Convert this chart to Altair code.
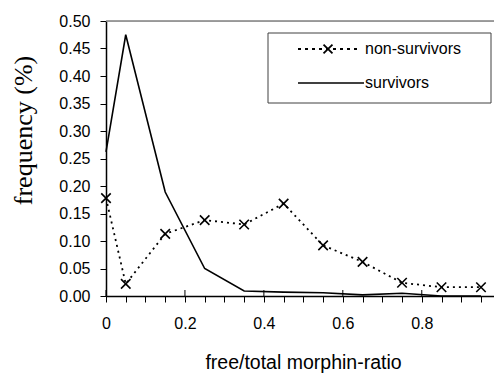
import altair as alt
import pandas as pd

# data
ratio = [0.0, 0.05, 0.15, 0.25, 0.35, 0.45, 0.55, 0.65, 0.75, 0.85, 0.95]
non_survivors = [0.178, 0.022, 0.113, 0.138, 0.130, 0.168, 0.092, 0.062, 0.024, 0.016, 0.016]
survivors = [0.262, 0.475, 0.189, 0.050, 0.009, 0.007, 0.006, 0.002, 0.005, 0.0, 0.0]
series_names = ["non-survivors", "survivors"]
x_tick_values = [round(i * 0.05, 2) for i in range(20)]
x_major_ticks = [0.0, 0.2, 0.4, 0.6, 0.8]
y_tick_values = [round(i * 0.05, 2) for i in range(11)]

W, H = 388, 275
FONT = "Liberation Sans"
XSHAPE = "M-1,-1L1,1M1,-1L-1,1"

df_ns = pd.DataFrame({"ratio": ratio, "freq": non_survivors})
df_s = pd.DataFrame({"ratio": ratio, "freq": survivors})
df_major = pd.DataFrame({"ratio": x_major_ticks})

xscale = alt.Scale(domain=[0, 0.983], nice=False, zero=False)
yscale = alt.Scale(domain=[0, 0.5], nice=False)

x_axis = alt.Axis(
    title="free/total morphin-ratio",
    values=x_tick_values,
    labelExpr="round(datum.value*100) % 20 == 0 ? (datum.value == 0 ? '0' : format(datum.value, '.1f')) : ''",
    labelOverlap=False,
    grid=False,
    domainColor="black",
    domainWidth=1.5,
    tickColor="black",
    tickWidth=1,
    tickSize=6,
    labelFont=FONT,
    labelFontSize=16,
    labelColor="black",
    labelPadding=13,
    labelFlush=False,
    titleFont=FONT,
    titleFontSize=19.5,
    titleFontWeight="normal",
    titleColor="black",
    titleBaseline="alphabetic",
    titleY=72,
    titleX=197,
)
y_axis = alt.Axis(
    title="frequency (%)",
    values=y_tick_values,
    format=".2f",
    labelOverlap=False,
    grid=False,
    domainColor="black",
    domainWidth=1.5,
    tickColor="black",
    tickWidth=1,
    tickSize=6,
    labelFont=FONT,
    labelFontSize=16,
    labelColor="black",
    labelPadding=10,
    titleFont="Liberation Serif",
    titleFontSize=26,
    titleFontWeight="normal",
    titleColor="black",
    titlePadding=22,
    titleY=109,
)
x_enc = alt.X("ratio:Q", scale=xscale, axis=x_axis)
y_enc = alt.Y("freq:Q", scale=yscale, axis=y_axis)

surv_line = alt.Chart(df_s).mark_line(color="black", strokeWidth=1.6).encode(x=x_enc, y=y_enc)
ns_line = alt.Chart(df_ns).mark_line(color="black", strokeWidth=1.8, strokeDash=[2, 4]).encode(
    x=x_enc, y=y_enc
)
ns_pts = alt.Chart(df_ns).mark_point(
    shape=XSHAPE, size=90, filled=False, color="black", strokeWidth=1.6, opacity=1
).encode(x=x_enc, y=y_enc)

top_rule = alt.Chart(pd.DataFrame({"freq": [0.5]})).mark_rule(color="#808080", strokeWidth=1.5).encode(
    y=y_enc, x=alt.value(0), x2=alt.value(W)
)
major_ticks = alt.Chart(df_major).mark_rule(color="black", strokeWidth=1).encode(
    x=x_enc, y=alt.value(H - 6), y2=alt.value(H)
)

# legend (drawn manually, Excel-style)
leg_box = alt.Chart(pd.DataFrame({"a": [0]})).mark_rect(
    fill="white", stroke="#404040", strokeWidth=1
).encode(x=alt.value(162), x2=alt.value(385), y=alt.value(12), y2=alt.value(82))
leg_df = pd.DataFrame({"name": series_names, "ypix": [28, 62]})
leg_ns_line = alt.Chart(leg_df.iloc[[0]]).mark_rule(color="black", strokeWidth=2.2, strokeDash=[3, 4]).encode(
    x=alt.value(192), x2=alt.value(252), y=alt.value(28)
)
leg_ns_pt = alt.Chart(leg_df.iloc[[0]]).mark_point(
    shape=XSHAPE, size=80, filled=False, color="black", strokeWidth=1.8, opacity=1
).encode(x=alt.value(222), y=alt.value(28))
leg_s_line = alt.Chart(leg_df.iloc[[1]]).mark_rule(color="black", strokeWidth=1.6).encode(
    x=alt.value(192), x2=alt.value(258), y=alt.value(62)
)
leg_text = alt.Chart(leg_df).mark_text(
    align="left", baseline="middle", font=FONT, fontSize=16, color="black"
).encode(x=alt.value(259), y=alt.Y("ypix:Q", scale=None), text="name:N")

chart = alt.layer(
    top_rule, surv_line, ns_line, ns_pts, major_ticks,
    leg_box, leg_ns_line, leg_ns_pt, leg_s_line, leg_text
).properties(
    width=W, height=H,
    autosize=alt.AutoSizeParams(type="none"),
    padding={"left": 106, "top": 21, "right": 0, "bottom": 77},
).configure_view(stroke=None).configure(background="white")

chart.save("out.html", embed_options={"renderer": "svg", "actions": False})
